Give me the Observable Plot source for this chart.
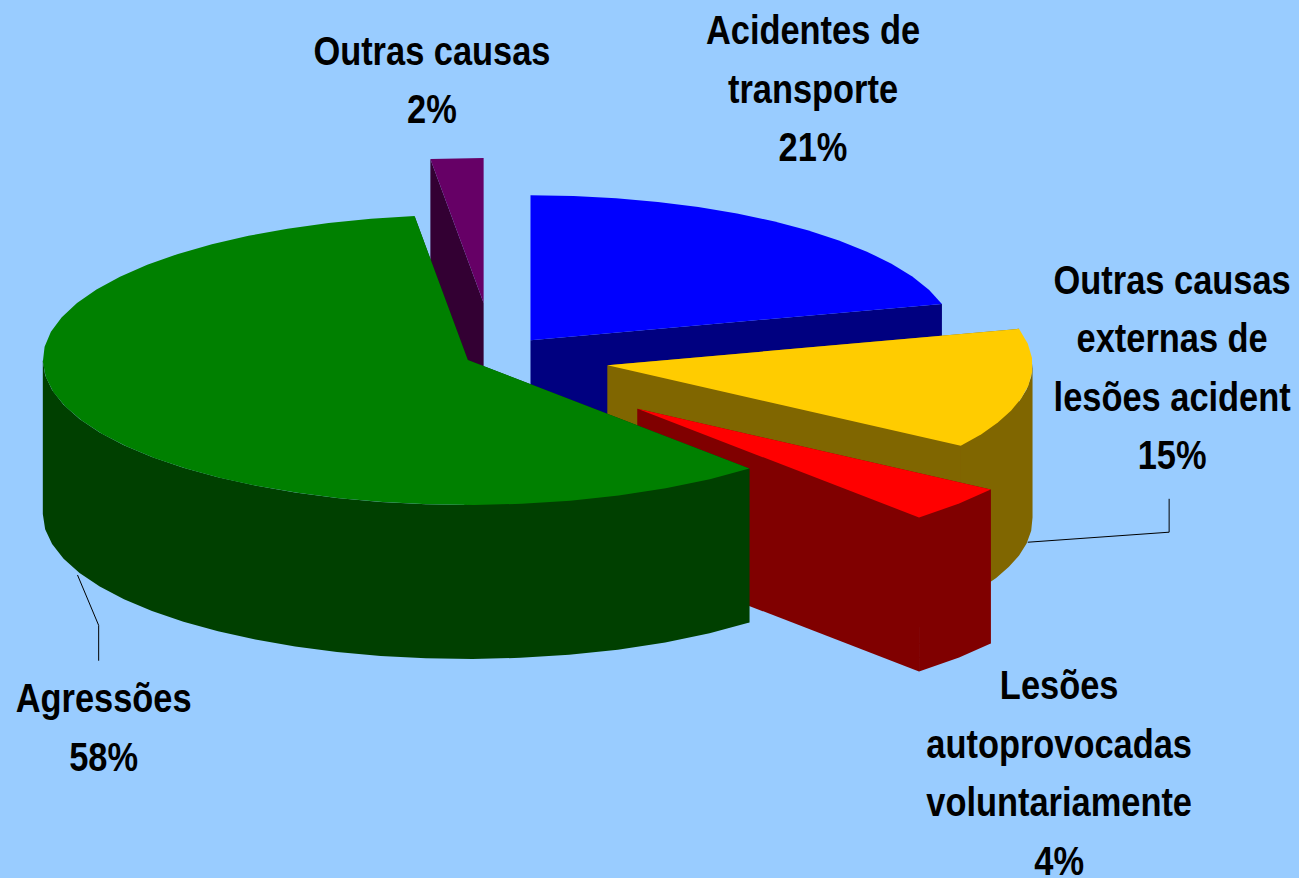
<!DOCTYPE html>
<html>
<head>
<meta charset="utf-8">
<title>Causas externas</title>
<style>
  html, body { margin: 0; padding: 0; background: #99CCFF; overflow: hidden; }
  svg { display: block; }
</style>
<script src="https://cdn.jsdelivr.net/npm/d3@7"></script>
<script src="https://cdn.jsdelivr.net/npm/@observablehq/plot@0.6"></script>
</head>
<body>
<script>
// Data, clockwise from twelve o'clock
const categories = ["Acidentes de\ntransporte", "Outras causas\nexternas de\nlesões acident", "Lesões\nautoprovocadas\nvoluntariamente", "Agressões", "Outras causas"];
const shares = [21, 15, 4, 58, 2];

// Style and layout options
const topColors = ["#0000FF", "#FFCC00", "#FF0000", "#008000", "#660066"];
const sideColors = ["#000080", "#806600", "#800000", "#004000", "#330033"];
const explodes = [0.142, 0.275, 0.495, 0.065, 0.37];
const labelOffsets = [[22, -194], [147, -111], [100, 183], [31, 286], [-25, -106]];
const leaderFootNudge = [null, [3, -4], null, [5, 8], null];
const leaderOffsets = [null, [[-3, 251], [-3, 218]], null, [[-5, -74], [-5, -39]], null];
const pie = {cx: 493, cy: 356, rx: 425, ry: 145, depth: 154, step: 6};
const fontSize = 40;
const lineGap = 58.5;
const textSqueeze = 0.86;

// Projection of the tilted pie
const rad = (a) => a * Math.PI / 180;
const warp = (a) => a - 6 * Math.exp(-(((a - 135) / 30) ** 2));
const rim = (c, a) => ({
  x: c.x + pie.rx * Math.sin(rad(warp(a))),
  y: c.y - pie.ry * Math.cos(rad(warp(a)))
});
const down = (p) => ({x: p.x, y: p.y + pie.depth});
const arcBetween = (c, a0, a1) => {
  const n = Math.max(1, Math.round((a1 - a0) / pie.step));
  return d3.range(n + 1).map((k) => rim(c, a0 + (a1 - a0) * k / n));
};

let start = 0;
const wedges = categories.map((name, i) => {
  const a0 = start;
  const a1 = start + shares[i] * 3.6;
  start = a1;
  const mid = (a0 + a1) / 2;
  const centre = {
    x: pie.cx + explodes[i] * pie.rx * Math.sin(rad(mid)),
    y: pie.cy - explodes[i] * pie.ry * Math.cos(rad(mid))
  };
  return {i, name, share: shares[i], a0, a1, mid, centre, arc: arcBetween(centre, a0, a1)};
});

// Polygons, in painting order: back pieces first, green over the cut faces of red
const paintOrder = [0, 4, 1, 2, 3];
const polys = [];
const addPoly = (id, fill, pts) => pts.forEach((p) => polys.push({id, fill, x: p.x, y: p.y}));
paintOrder.forEach((i) => {
  const w = wedges[i];
  const first = w.arc[0], last = w.arc[w.arc.length - 1];
  addPoly(`${i}-cut0`, sideColors[i], [w.centre, first, down(first), down(w.centre)]);
  addPoly(`${i}-cut1`, sideColors[i], [w.centre, last, down(last), down(w.centre)]);
  // only the near half of the rim shows a wall
  const from = Math.max(w.a0, 90), to = Math.min(w.a1, 270);
  if (from < to) {
    const near = arcBetween(w.centre, from, to);
    addPoly(`${i}-rim`, sideColors[i], [...near, ...near.map(down).reverse()]);
  }
  addPoly(`${i}-top`, topColors[i], [w.centre, ...w.arc]);
});

// Labels sit off the rim at the slice's middle; leaders run from the lower rim to the label
const labels = wedges.map((w) => {
  const anchor = rim(w.centre, w.mid);
  return {w, x: anchor.x, y: anchor.y, text: `${w.name}\n${w.share}%`,
          dx: labelOffsets[w.i][0], dy: labelOffsets[w.i][1] - fontSize * 0.72};
});
const leaderRows = [];
wedges.forEach((w, i) => {
  if (!leaderOffsets[i]) return;
  const anchor = rim(w.centre, w.mid);
  const lx = anchor.x + labelOffsets[i][0], ly = anchor.y + labelOffsets[i][1];
  const foot = down(anchor);
  leaderRows.push({i, x: foot.x + leaderFootNudge[i][0], y: foot.y + leaderFootNudge[i][1]});
  leaderOffsets[i].forEach(([ox, oy]) => leaderRows.push({i, x: lx + ox, y: ly + oy}));
});

const chart = Plot.plot({
  width: 1299,
  height: 878,
  margin: 0,
  x: {domain: [0, 1299], range: [0, 1299], axis: null},
  y: {domain: [0, 878], range: [0, 878], axis: null},
  color: {type: "identity"},
  style: {background: "#99CCFF"},
  marks: [
    Plot.line(polys, {x: "x", y: "y", z: "id", fill: "fill", stroke: null, curve: "linear"}),
    Plot.line(leaderRows, {x: "x", y: "y", z: "i", stroke: "#000000", strokeWidth: 1}),
    ...labels.map((l) => Plot.text([l], {
      x: "x", y: "y", text: "text",
      dx: l.dx, dy: l.dy,
      lineAnchor: "top",
      lineHeight: lineGap / fontSize,
      textAnchor: "middle",
      fontFamily: "'Liberation Sans', Arial, sans-serif",
      fontWeight: "bold",
      fontSize,
      fill: "#000000",
      className: "pie-label",
      style: {letterSpacing: "2.5px"}
    }))
  ]
});
document.body.appendChild(chart);

// The reference's labels are condensed: squeeze each line horizontally
chart.querySelectorAll(".pie-label text").forEach((t) => {
  const lines = t.querySelectorAll("tspan");
  (lines.length ? lines : [t]).forEach((line) => {
    const natural = line.getComputedTextLength();
    line.setAttribute("textLength", natural * textSqueeze);
    line.setAttribute("lengthAdjust", "spacingAndGlyphs");
  });
});
</script>
</body>
</html>
